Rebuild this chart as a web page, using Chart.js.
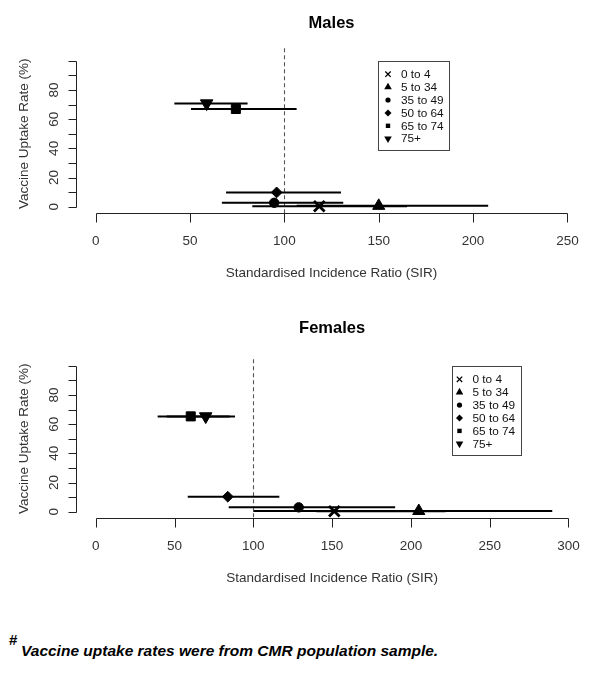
<!DOCTYPE html>
<html><head><meta charset="utf-8">
<script src="https://cdn.jsdelivr.net/npm/chart.js@4.4.1/dist/chart.umd.min.js"></script>
<style>
html,body{margin:0;padding:0;background:#fff;width:600px;height:675px;overflow:hidden}
#wrap{position:relative;width:600px;height:675px;background:#fff}
canvas{position:absolute;left:0}
.fn{position:absolute;font-family:'Liberation Sans',Arial,sans-serif;color:#000;white-space:nowrap;font-weight:bold}
</style></head><body>
<div id="wrap">
<canvas id="males" width="600" height="305" style="top:0"></canvas>
<canvas id="females" width="600" height="305" style="top:305px"></canvas>
<span class="fn" style="left:9px;top:631px;font-size:15px;line-height:17px">#</span>
<span class="fn" style="left:21px;top:642px;font-size:15.5px;line-height:18px;font-style:italic">Vaccine uptake rates were from CMR population sample.</span>
</div>
<script>
// ---- data ----
const ageGroups = ['0 to 4', '5 to 34', '35 to 49', '50 to 64', '65 to 74', '75+'];

const maleSIR    = [118.5, 150.0, 94.6, 95.9, 74.3, 58.8];
const maleLower  = [83.0, 106.5, 66.9, 69.1, 50.5, 41.7];
const maleUpper  = [165.0, 208.0, 131.2, 130.0, 106.5, 80.5];
const maleUptake = [0.3, 0.6, 2.7, 9.8, 67.0, 70.8];

const femaleSIR    = [151.4, 205.0, 128.8, 83.8, 60.3, 69.8];
const femaleLower  = [140.0, 100.0, 84.4, 58.4, 39.3, 45.0];
const femaleUpper  = [222.0, 289.7, 190.0, 116.5, 85.0, 88.4];
const femaleUptake = [0.3, 0.5, 3.0, 10.3, 65.3, 65.3];

const maleXTicks   = [0, 50, 100, 150, 200, 250];
const femaleXTicks = [0, 50, 100, 150, 200, 250, 300];
const yTicks       = [0, 10, 20, 30, 40, 50, 60, 70, 80, 90, 100];
const yTickLabels  = ['0', '', '20', '', '40', '', '60', '', '80', '', ''];
const refSIR = 100;

const xTitle = 'Standardised Incidence Ratio (SIR)';
const yTitle = 'Vaccine Uptake Rate (%)';

// ---- styles ----
const FONT = "'Liberation Sans', Arial, sans-serif";
const pStyles = ['crossRot', 'triangle', 'circle', 'rectRot', 'rect', 'triangle'];
const pRot    = [0, 0, 0, 0, 0, 180];
const pRad    = [7.5, 7, 4.7, 5.4, 6.4, 7.2];
const lRad    = [3.8, 4.4, 2.6, 3.5, 3.1, 4.4];

function drawSym(ctx, i, r, x, y) {
  const opts = {pointStyle: pStyles[i], rotation: pRot[i], radius: r, borderWidth: i === 0 ? 1.3 : 0};
  ctx.fillStyle = '#000'; ctx.strokeStyle = '#000'; ctx.lineWidth = opts.borderWidth || 1;
  if (window.Chart && Chart.helpers && Chart.helpers.drawPoint) {
    Chart.helpers.drawPoint(ctx, opts, x, y);
  }
}

function makePanel(id, cfg) {
  const panelPlugin = {
    id: 'panel_' + id,
    beforeDatasetsDraw(chart) {
      const ctx = chart.ctx, xs = chart.scales.x, ys = chart.scales.y, ca = chart.chartArea;
      ctx.save();
      // reference line
      ctx.strokeStyle = '#555'; ctx.lineWidth = 1.1; ctx.setLineDash([4, 3]);
      const rx = Math.round(xs.getPixelForValue(refSIR)) + 0.5;
      ctx.beginPath(); ctx.moveTo(rx, ca.top); ctx.lineTo(rx, ca.bottom); ctx.stroke();
      ctx.setLineDash([]);
      // CI bars
      ctx.strokeStyle = '#000'; ctx.lineWidth = 2;
      for (let i = 0; i < ageGroups.length; i++) {
        const py = ys.getPixelForValue(cfg.up[i]);
        ctx.beginPath();
        ctx.moveTo(xs.getPixelForValue(cfg.lo[i]), py);
        ctx.lineTo(xs.getPixelForValue(cfg.hi[i]), py);
        ctx.stroke();
      }
      ctx.restore();
    },
    afterDraw(chart) {
      const ctx = chart.ctx, xs = chart.scales.x, ys = chart.scales.y, ca = chart.chartArea;
      ctx.save();
      ctx.strokeStyle = '#222'; ctx.lineWidth = 1;
      // x axis
      const axY = Math.round(ca.bottom) + 0.5;
      const xt = cfg.xTicks;
      ctx.beginPath();
      ctx.moveTo(Math.round(xs.getPixelForValue(xt[0])) + 0.5, axY);
      ctx.lineTo(Math.round(xs.getPixelForValue(xt[xt.length - 1])) + 0.5, axY);
      xt.forEach(v => {
        const px = Math.round(xs.getPixelForValue(v)) + 0.5;
        ctx.moveTo(px, axY); ctx.lineTo(px, axY + 9);
      });
      ctx.stroke();
      ctx.fillStyle = '#333'; ctx.font = '13.5px ' + FONT;
      ctx.textAlign = 'center'; ctx.textBaseline = 'middle';
      xt.forEach(v => ctx.fillText(String(v), xs.getPixelForValue(v), ca.bottom + 28));
      ctx.fillText(xTitle, (ca.left + ca.right) / 2, ca.bottom + 60);
      // y axis
      const axX = Math.round(ca.left) - 0.5;
      ctx.beginPath();
      ctx.moveTo(axX, Math.round(ys.getPixelForValue(yTicks[0])) + 0.5);
      ctx.lineTo(axX, Math.round(ys.getPixelForValue(yTicks[yTicks.length - 1])) + 0.5);
      yTicks.forEach(v => {
        const py = Math.round(ys.getPixelForValue(v)) + 0.5;
        ctx.moveTo(axX, py); ctx.lineTo(axX - 8, py);
      });
      ctx.stroke();
      yTicks.forEach((v, k) => {
        if (!yTickLabels[k]) return;
        ctx.save();
        ctx.translate(axX - 22, ys.getPixelForValue(v));
        ctx.rotate(-Math.PI / 2);
        ctx.fillText(yTickLabels[k], 0, 0);
        ctx.restore();
      });
      ctx.save();
      ctx.translate(24, (ys.getPixelForValue(0) + ys.getPixelForValue(100)) / 2);
      ctx.rotate(-Math.PI / 2);
      ctx.fillText(yTitle, 0, 0);
      ctx.restore();
      // title
      ctx.fillStyle = '#000'; ctx.font = 'bold 16.5px ' + FONT;
      ctx.fillText(cfg.title, (ca.left + ca.right) / 2, 23);
      // legend
      const L = cfg.legend;
      ctx.fillStyle = '#fff';
      ctx.fillRect(L.x, L.y, L.w, L.h);
      ctx.strokeStyle = '#444'; ctx.lineWidth = 1;
      ctx.strokeRect(Math.round(L.x) + 0.5, Math.round(L.y) + 0.5, Math.round(L.w), Math.round(L.h));
      for (let i = 0; i < ageGroups.length; i++) {
        const ry = L.row0 + i * 12.9;
        drawSym(ctx, i, lRad[i], L.sx, ry);
        ctx.fillStyle = '#111'; ctx.font = '11.8px ' + FONT;
        ctx.textAlign = 'left'; ctx.textBaseline = 'middle';
        ctx.fillText(ageGroups[i], L.tx, ry + 0.5);
      }
      ctx.restore();
    }
  };

  const datasets = ageGroups.map((g, i) => ({
    label: g,
    data: [{x: cfg.sir[i], y: cfg.up[i]}],
    pointStyle: pStyles[i],
    rotation: pRot[i],
    pointRadius: pRad[i],
    pointHoverRadius: pRad[i],
    backgroundColor: '#000',
    borderColor: '#000',
    borderWidth: i === 0 ? 2.8 : 1,
    showLine: false
  }));

  return new Chart(document.getElementById(id), {
    type: 'scatter',
    data: {datasets},
    options: {
      responsive: false,
      animation: false,
      devicePixelRatio: 1,
      events: [],
      layout: {padding: cfg.pad},
      scales: {
        x: {type: 'linear', min: cfg.xMin, max: cfg.xMax, display: false},
        y: {type: 'linear', min: cfg.yMin, max: cfg.yMax, display: false}
      },
      plugins: {legend: {display: false}, tooltip: {enabled: false}, title: {display: false}}
    },
    plugins: [panelPlugin]
  });
}

makePanel('males', {
  title: 'Males',
  sir: maleSIR, lo: maleLower, hi: maleUpper, up: maleUptake,
  xTicks: maleXTicks,
  xMin: -10, xMax: 260, yMin: -4.3, yMax: 108.6,
  pad: {left: 76.8, right: 13.7, top: 48.3, bottom: 92},
  legend: {x: 378.3, y: 61, w: 71, h: 89, sx: 388, tx: 401, row0: 74.2}
});

makePanel('females', {
  title: 'Females',
  sir: femaleSIR, lo: femaleLower, hi: femaleUpper, up: femaleUptake,
  xTicks: femaleXTicks,
  xMin: -12, xMax: 312, yMin: -4.5, yMax: 104.4,
  pad: {left: 76.8, right: 12.6, top: 54.3, bottom: 91.7},
  legend: {x: 451.5, y: 60.7, w: 68.5, h: 89.3, sx: 459.5, tx: 472.5, row0: 74.3}
});
</script>
</body></html>
